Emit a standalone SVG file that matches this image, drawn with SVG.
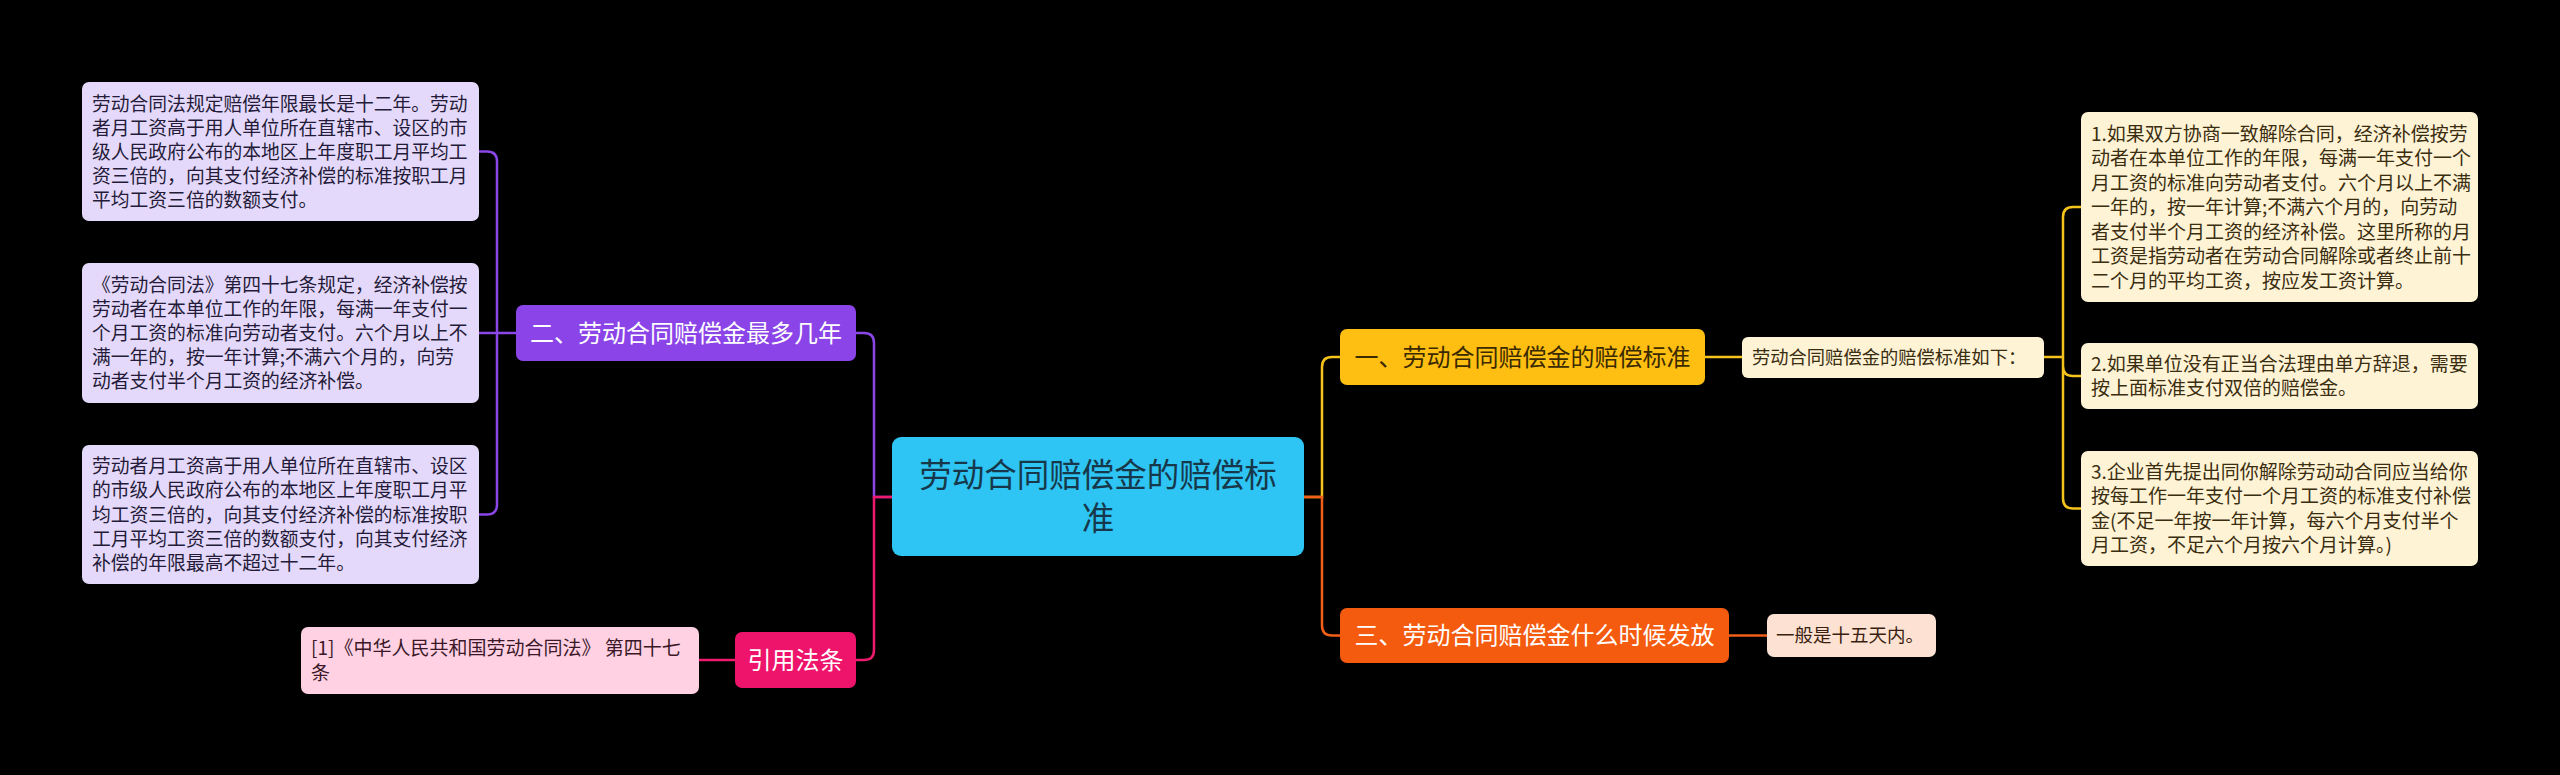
<svg xmlns="http://www.w3.org/2000/svg" width="2560" height="775" viewBox="0 0 2560 775">
<style>
text{font-family:"Noto Sans CJK SC","Noto Sans",sans-serif;}
.ln{fill:none;stroke-width:2.5;}
.lp{fill:#E4D9FB;}
.lpt{font-size:18.8px;fill:#241b38;}
.ly{fill:#FFF3D5;}
.lyt{font-size:19px;fill:#3a2d10;}
.b{font-size:24px;text-anchor:middle;}
</style>
<rect width="2560" height="775" fill="#000"/>
<g id="connectors">
<path class="ln" stroke="#8B46E8" d="M516,333 H497 V161.5 Q497,151.5 487,151.5 H479 M516,333 H479 M516,333 H497 V504.5 Q497,514.5 487,514.5 H479"/>
<path class="ln" stroke="#8B46E8" d="M892,497 H874 V343 Q874,333 864,333 H856"/>
<path class="ln" stroke="#EE1A6E" d="M892,497 H874 V650 Q874,660 864,660 H856 M735,660 H699"/>
<path class="ln" stroke="#F6C21C" d="M1304,497 H1322 V367 Q1322,357 1332,357 H1340 M1705,357 H1742 M2044,357 H2063 V217 Q2063,207 2073,207 H2081 M2044,357 H2063 V366 Q2063,376 2073,376 H2081 M2044,357 H2063 V498.5 Q2063,508.5 2073,508.5 H2081"/>
<path class="ln" stroke="#F05E18" d="M1304,497 H1322 V625.5 Q1322,635.5 1332,635.5 H1340 M1729,635.5 H1767"/>
</g>
<g id="root">
<rect x="892" y="437" width="412" height="119" rx="9" fill="#2EC4F3"/>
<text x="1098" y="486.5" font-size="32.5" text-anchor="middle" fill="#17384b">劳动合同赔偿金的赔偿标</text>
<text x="1098" y="529.5" font-size="32.5" text-anchor="middle" fill="#17384b">准</text>
</g>
<g id="b2">
<rect x="516" y="305" width="340" height="56" rx="7" fill="#8A44E7"/>
<text class="b" x="686" y="341.6" fill="#fff">二、劳动合同赔偿金最多几年</text>
</g>
<g id="l2a">
<rect class="lp" x="82" y="82" width="397" height="139" rx="7"/>
<text class="lpt" x="92"><tspan x="92" y="110.5">劳动合同法规定赔偿年限最长是十二年。劳动</tspan><tspan x="92" y="134.7">者月工资高于用人单位所在直辖市、设区的市</tspan><tspan x="92" y="158.9">级人民政府公布的本地区上年度职工月平均工</tspan><tspan x="92" y="183.1">资三倍的，向其支付经济补偿的标准按职工月</tspan><tspan x="92" y="207.3">平均工资三倍的数额支付。</tspan></text>
</g>
<g id="l2b">
<rect class="lp" x="82" y="263" width="397" height="140" rx="7"/>
<text class="lpt" x="92"><tspan x="92" y="291.6">《劳动合同法》第四十七条规定，经济补偿按</tspan><tspan x="92" y="315.8">劳动者在本单位工作的年限，每满一年支付一</tspan><tspan x="92" y="340">个月工资的标准向劳动者支付。六个月以上不</tspan><tspan x="92" y="364.2">满一年的，按一年计算;不满六个月的，向劳</tspan><tspan x="92" y="388.4">动者支付半个月工资的经济补偿。</tspan></text>
</g>
<g id="l2c">
<rect class="lp" x="82" y="445" width="397" height="139" rx="7"/>
<text class="lpt" x="92"><tspan x="92" y="473.1">劳动者月工资高于用人单位所在直辖市、设区</tspan><tspan x="92" y="497.3">的市级人民政府公布的本地区上年度职工月平</tspan><tspan x="92" y="521.5">均工资三倍的，向其支付经济补偿的标准按职</tspan><tspan x="92" y="545.7">工月平均工资三倍的数额支付，向其支付经济</tspan><tspan x="92" y="569.9">补偿的年限最高不超过十二年。</tspan></text>
</g>
<g id="bref">
<rect x="735" y="632" width="121" height="56" rx="7" fill="#EF146B"/>
<text class="b" x="795.5" y="668.6" fill="#fff">引用法条</text>
</g>
<g id="lref">
<rect x="301" y="627" width="398" height="67" rx="7" fill="#FFD1E3"/>
<text font-size="19" fill="#3a1828"><tspan x="311" y="655.3">[1]《中华人民共和国劳动合同法》 第四十七</tspan><tspan x="311" y="679.7">条</tspan></text>
</g>
<g id="b1">
<rect x="1340" y="329" width="365" height="56" rx="7" fill="#FEBF12"/>
<text class="b" x="1522.5" y="365.6" fill="#3b2a00">一、劳动合同赔偿金的赔偿标准</text>
</g>
<g id="s1">
<rect class="ly" x="1742" y="337" width="302" height="41" rx="6"/>
<text x="1752" y="364" font-size="18.3" fill="#3a2d10">劳动合同赔偿金的赔偿标准如下：</text>
</g>
<g id="r1">
<rect class="ly" x="2081" y="112" width="397" height="190" rx="7"/>
<text class="lyt"><tspan x="2091" y="140.5">1.如果双方协商一致解除合同，经济补偿按劳</tspan><tspan x="2091" y="165">动者在本单位工作的年限，每满一年支付一个</tspan><tspan x="2091" y="189.5">月工资的标准向劳动者支付。六个月以上不满</tspan><tspan x="2091" y="214">一年的，按一年计算;不满六个月的，向劳动</tspan><tspan x="2091" y="238.5">者支付半个月工资的经济补偿。这里所称的月</tspan><tspan x="2091" y="263">工资是指劳动者在劳动合同解除或者终止前十</tspan><tspan x="2091" y="287.5">二个月的平均工资，按应发工资计算。</tspan></text>
</g>
<g id="r2">
<rect class="ly" x="2081" y="343" width="397" height="66" rx="7"/>
<text class="lyt"><tspan x="2091" y="370.8">2.如果单位没有正当合法理由单方辞退，需要</tspan><tspan x="2091" y="395.2">按上面标准支付双倍的赔偿金。</tspan></text>
</g>
<g id="r3">
<rect class="ly" x="2081" y="451" width="397" height="115" rx="7"/>
<text class="lyt"><tspan x="2091" y="479">3.企业首先提出同你解除劳动动合同应当给你</tspan><tspan x="2091" y="503.4">按每工作一年支付一个月工资的标准支付补偿</tspan><tspan x="2091" y="527.8">金(不足一年按一年计算，每六个月支付半个</tspan><tspan x="2091" y="552.2">月工资，不足六个月按六个月计算。)</tspan></text>
</g>
<g id="b3">
<rect x="1340" y="608" width="389" height="55" rx="7" fill="#F45B0F"/>
<text class="b" x="1534.5" y="644" fill="#fff">三、劳动合同赔偿金什么时候发放</text>
</g>
<g id="l3">
<rect x="1767" y="614" width="169" height="43" rx="7" fill="#FDE2D3"/>
<text x="1776" y="642" font-size="18.5" fill="#3a1e10">一般是十五天内。</text>
</g>
</svg>
